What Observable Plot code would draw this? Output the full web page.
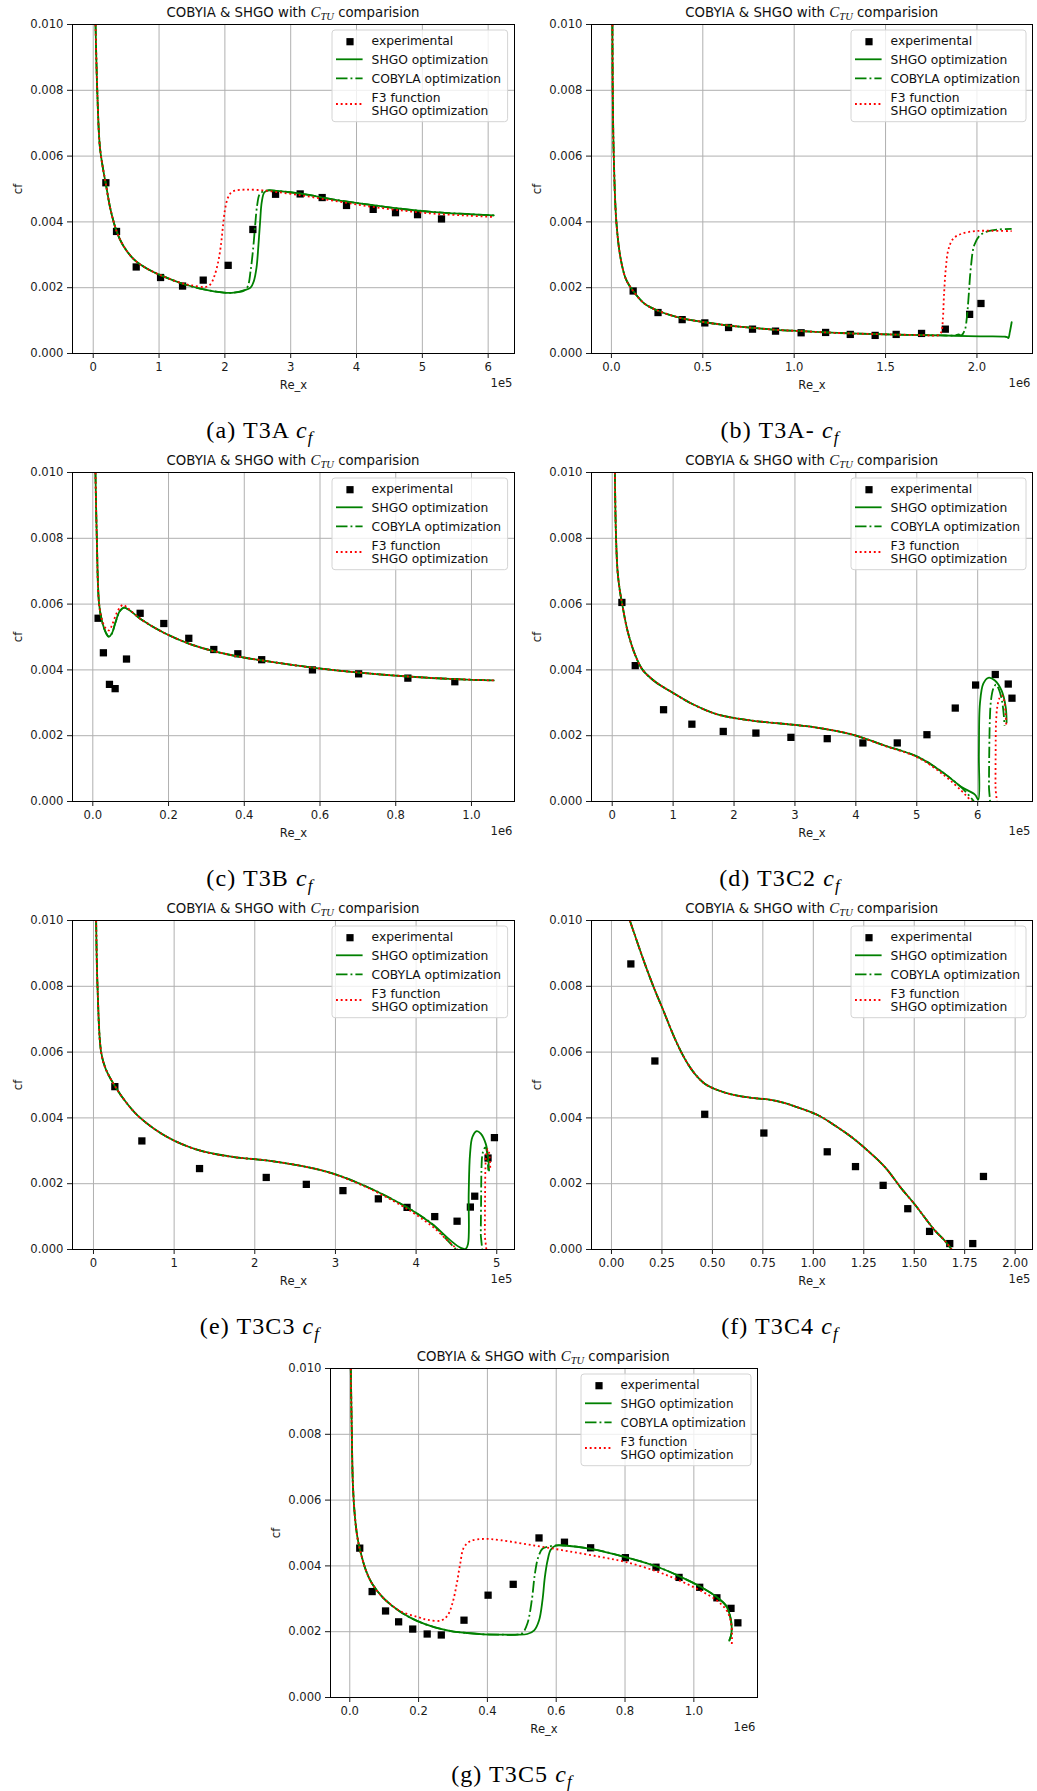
<!DOCTYPE html>
<html><head><meta charset="utf-8">
<script src="https://cdn.jsdelivr.net/npm/d3@7"></script>
<script src="https://cdn.jsdelivr.net/npm/@observablehq/plot@0.6"></script>
<style>
html,body{margin:0;padding:0;background:#fff;}
#root{position:relative;width:1037px;height:1791px;overflow:hidden;background:#fff;}
.abs{position:absolute;}
.title{font-family:"DejaVu Sans";font-size:13.3px;color:#111;text-align:center;white-space:nowrap;line-height:16px;height:16px;}
.math{font-family:"Liberation Serif";font-style:italic;font-size:15px;}
.math sub{font-size:10.5px;vertical-align:-3px;line-height:0;}
.cap{font-family:"Liberation Serif";font-size:24px;letter-spacing:1.1px;color:#000;text-align:center;white-space:nowrap;line-height:28px;height:28px;}
.cap sub{font-size:17px;vertical-align:-5px;line-height:0;}
</style></head><body><div id="root"></div>
<script>
// ---------- text ----------
const titlePre = "COBYIA & SHGO with ";
const titleMathMain = "C", titleMathSub = "TU";
const titlePost = " comparision";
const captions = ["(a) T3A", "(b) T3A-", "(c) T3B", "(d) T3C2", "(e) T3C3", "(f) T3C4", "(g) T3C5"];
const legendLabels = ["experimental", "SHGO optimization", "COBYLA optimization", "F3 function", "SHGO optimization"];
const xLabel = "Re_x", yLabel = "cf";
const offsets = ["1e5", "1e6", "1e6", "1e5", "1e5", "1e5", "1e6"];

// ---------- ticks ----------
const yTicks = [0, 0.002, 0.004, 0.006, 0.008, 0.010];
const ticksA = [0, 1, 2, 3, 4, 5, 6];
const ticksB = [0, 0.5, 1.0, 1.5, 2.0];
const ticksC = [0, 0.2, 0.4, 0.6, 0.8, 1.0];
const ticksD = [0, 1, 2, 3, 4, 5, 6];
const ticksE = [0, 1, 2, 3, 4, 5];
const ticksF = [0, 0.25, 0.5, 0.75, 1.0, 1.25, 1.5, 1.75, 2.0];
const ticksG = [0, 0.2, 0.4, 0.6, 0.8, 1.0];

// ---------- data: [Re_x (x offset unit), cf x1e3] ----------
// (a) T3A, x in 1e5
const expA = [[0.192,5.19],[0.354,3.71],[0.653,2.63],[1.023,2.31],[1.357,2.05],[1.671,2.23],[2.05,2.68],[2.425,3.77],[2.77,4.84],[3.144,4.85],[3.478,4.74],[3.848,4.50],[4.253,4.38],[4.592,4.28],[4.927,4.22],[5.291,4.09]];
const shgoA = [[0.035,10],[0.061,8.0],[0.1,6.3],[0.15,5.6],[0.192,5.15],[0.26,4.4],[0.354,3.72],[0.45,3.3],[0.618,2.86],[0.8,2.6],[1.023,2.38],[1.357,2.12],[1.681,1.95],[1.985,1.85],[2.137,1.85],[2.289,1.92],[2.39,2.0],[2.44,2.2],[2.48,2.6],[2.51,3.3],[2.535,4.0],[2.56,4.6],[2.6,4.9],[2.66,4.96],[2.795,4.94],[3.149,4.86],[3.656,4.68],[4.162,4.53],[4.668,4.40],[5.175,4.30],[5.681,4.24],[6.086,4.20]];
const cobylaA = [[0.035,10],[0.061,8.0],[0.1,6.3],[0.15,5.6],[0.192,5.15],[0.26,4.4],[0.354,3.72],[0.45,3.3],[0.618,2.86],[0.8,2.6],[1.023,2.38],[1.357,2.12],[1.681,1.95],[1.985,1.85],[2.137,1.85],[2.25,1.88],[2.30,1.92],[2.35,2.05],[2.39,2.5],[2.43,3.2],[2.46,3.9],[2.49,4.5],[2.53,4.85],[2.6,4.94],[2.66,4.96],[2.795,4.94],[3.149,4.86],[3.656,4.68],[4.162,4.53],[4.668,4.40],[5.175,4.30],[5.681,4.24],[6.086,4.20]];
const f3A = [[0.035,10],[0.061,8.0],[0.1,6.3],[0.15,5.6],[0.192,5.15],[0.26,4.4],[0.354,3.72],[0.45,3.3],[0.618,2.86],[0.8,2.6],[1.023,2.38],[1.357,2.13],[1.5,2.07],[1.70,2.02],[1.78,2.1],[1.84,2.35],[1.90,2.8],[1.94,3.3],[1.97,3.85],[2.0,4.35],[2.04,4.7],[2.09,4.88],[2.15,4.95],[2.3,4.98],[2.5,4.97],[2.7,4.93],[3.149,4.81],[3.656,4.64],[4.162,4.48],[4.668,4.35],[5.175,4.25],[5.681,4.19],[6.086,4.15]];

// (b) T3A-, x in 1e6
const expB = [[0.119,1.90],[0.255,1.245],[0.387,1.03],[0.511,0.93],[0.641,0.79],[0.772,0.74],[0.898,0.68],[1.038,0.63],[1.172,0.64],[1.307,0.58],[1.443,0.55],[1.558,0.58],[1.697,0.61],[1.827,0.74],[1.96,1.19],[2.022,1.52]];
const shgoB = [[0.0055,10],[0.0073,8],[0.0128,6],[0.027,4],[0.05,2.9],[0.08,2.25],[0.119,1.9],[0.18,1.52],[0.255,1.3],[0.387,1.07],[0.511,0.95],[0.641,0.85],[0.772,0.78],[0.9,0.72],[1.038,0.68],[1.172,0.64],[1.307,0.61],[1.443,0.59],[1.558,0.575],[1.697,0.56],[1.8,0.55],[1.95,0.53],[2.05,0.52],[2.15,0.51],[2.165,0.50],[2.172,0.47],[2.18,0.65],[2.19,0.95]];
const cobylaB = [[0.0055,10],[0.0073,8],[0.0128,6],[0.027,4],[0.05,2.9],[0.08,2.25],[0.119,1.9],[0.18,1.52],[0.255,1.3],[0.387,1.07],[0.511,0.95],[0.641,0.85],[0.772,0.78],[0.9,0.72],[1.038,0.68],[1.172,0.64],[1.307,0.61],[1.443,0.59],[1.558,0.575],[1.697,0.56],[1.8,0.55],[1.88,0.55],[1.9,0.58],[1.915,0.55],[1.934,0.72],[1.945,1.1],[1.953,1.62],[1.967,2.63],[1.985,3.29],[2.016,3.59],[2.062,3.72],[2.12,3.77],[2.19,3.79]];
const f3B = [[0.0055,10],[0.0073,8],[0.0128,6],[0.027,4],[0.05,2.9],[0.08,2.25],[0.119,1.9],[0.18,1.52],[0.255,1.3],[0.387,1.07],[0.511,0.95],[0.641,0.85],[0.772,0.78],[0.9,0.72],[1.038,0.68],[1.172,0.64],[1.307,0.61],[1.443,0.59],[1.558,0.575],[1.697,0.56],[1.79,0.56],[1.805,0.65],[1.813,1.0],[1.82,1.8],[1.83,2.6],[1.843,3.14],[1.87,3.49],[1.916,3.64],[1.99,3.72],[2.08,3.73],[2.19,3.72]];

// (c) T3B, x in 1e6
const expC = [[0.014,5.57],[0.028,4.52],[0.044,3.56],[0.059,3.43],[0.089,4.33],[0.125,5.72],[0.1875,5.41],[0.2535,4.96],[0.3195,4.62],[0.383,4.49],[0.446,4.31],[0.580,4.00],[0.702,3.88],[0.832,3.75],[0.956,3.64]];
const shgoC = [[0.007,10],[0.0106,8],[0.0167,6],[0.025,5.45],[0.035,5.12],[0.042,5.01],[0.05,5.1],[0.06,5.45],[0.071,5.78],[0.082,5.89],[0.095,5.83],[0.126,5.55],[0.1875,5.13],[0.2535,4.8],[0.3195,4.57],[0.383,4.41],[0.446,4.29],[0.580,4.07],[0.702,3.92],[0.832,3.8],[0.956,3.72],[1.059,3.68]];
const cobylaC = [[0.007,10],[0.0106,8],[0.0167,6],[0.025,5.45],[0.035,5.12],[0.042,5.01],[0.05,5.1],[0.06,5.45],[0.071,5.78],[0.082,5.89],[0.095,5.83],[0.126,5.55],[0.1875,5.13],[0.2535,4.8],[0.3195,4.57],[0.383,4.41],[0.446,4.29],[0.580,4.07],[0.702,3.92],[0.832,3.8],[0.956,3.72],[1.059,3.68]];
const f3C = [[0.007,10],[0.0106,8],[0.0167,6],[0.025,5.5],[0.035,5.25],[0.043,5.2],[0.052,5.4],[0.062,5.7],[0.072,5.9],[0.08,5.98],[0.09,5.9],[0.1,5.8],[0.126,5.55],[0.1875,5.13],[0.2535,4.8],[0.3195,4.57],[0.383,4.41],[0.446,4.29],[0.580,4.07],[0.702,3.92],[0.832,3.8],[0.956,3.72],[1.059,3.68]];

// (d) T3C2, x in 1e5
const expD = [[0.159,6.05],[0.378,4.13],[0.843,2.79],[1.308,2.35],[1.823,2.13],[2.359,2.08],[2.934,1.95],[3.53,1.91],[4.116,1.78],[4.68,1.78],[5.167,2.03],[5.632,2.84],[5.966,3.54],[6.289,3.86],[6.502,3.57],[6.563,3.14]];
const shgoD = [[0.044,10],[0.06,8.2],[0.088,7.0],[0.126,6.4],[0.159,6.05],[0.25,5.2],[0.378,4.45],[0.5,4.0],[0.7,3.65],[1.0,3.3],[1.308,2.97],[1.74,2.64],[2.288,2.46],[2.934,2.34],[3.38,2.24],[3.93,2.04],[4.477,1.70],[5.025,1.35],[5.46,0.84],[5.736,0.44],[5.955,0.21],[6.01,0.06],[6.02,1.45],[6.037,2.97],[6.092,3.58],[6.174,3.76],[6.283,3.68],[6.393,3.37],[6.46,2.87],[6.475,2.4]];
const cobylaD = [[0.044,10],[0.06,8.2],[0.088,7.0],[0.126,6.4],[0.159,6.05],[0.25,5.2],[0.378,4.45],[0.5,4.0],[0.7,3.65],[1.0,3.3],[1.308,2.97],[1.74,2.64],[2.288,2.46],[2.934,2.34],[3.38,2.24],[3.93,2.04],[4.477,1.70],[5.025,1.35],[5.46,0.84],[5.736,0.42],[5.85,0.2],[5.93,0.02],[6.0,-0.2],[6.18,-0.3],[6.185,0.5],[6.19,1.5],[6.2,2.5],[6.22,3.1],[6.26,3.45],[6.30,3.55],[6.35,3.4],[6.40,3.05],[6.43,2.6],[6.44,2.3]];
const f3D = [[0.044,10],[0.06,8.2],[0.088,7.0],[0.126,6.4],[0.159,6.05],[0.25,5.2],[0.378,4.45],[0.5,4.0],[0.7,3.65],[1.0,3.3],[1.308,2.97],[1.74,2.64],[2.288,2.46],[2.934,2.34],[3.38,2.24],[3.93,2.04],[4.477,1.69],[5.025,1.33],[5.46,0.78],[5.736,0.32],[5.85,0.1],[5.95,-0.1],[6.1,-0.3],[6.29,-0.3],[6.292,0.5],[6.295,1.5],[6.30,2.3],[6.32,2.85],[6.36,3.15],[6.40,3.22],[6.44,3.0],[6.46,2.6],[6.47,2.3]];

// (e) T3C3, x in 1e5
const expE = [[0.265,4.95],[0.60,3.30],[1.315,2.46],[2.142,2.19],[2.639,1.98],[3.093,1.79],[3.532,1.54],[3.888,1.28],[4.231,1.00],[4.508,0.86],[4.673,1.29],[4.727,1.62],[4.892,2.78],[4.971,3.40]];
const shgoE = [[0.033,10],[0.05,8],[0.095,6],[0.15,5.5],[0.265,4.97],[0.418,4.43],[0.58,4.0],[0.914,3.42],[1.315,3.01],[1.741,2.81],[2.142,2.71],[2.639,2.51],[2.982,2.30],[3.395,1.90],[3.809,1.39],[4.016,1.09],[4.222,0.73],[4.429,0.27],[4.553,0.05],[4.615,0.02],[4.644,0.17],[4.652,1.69],[4.669,2.91],[4.698,3.42],[4.752,3.60],[4.802,3.52],[4.864,3.21],[4.892,2.81],[4.905,2.40]];
const cobylaE = [[0.033,10],[0.05,8],[0.095,6],[0.15,5.5],[0.265,4.97],[0.418,4.43],[0.58,4.0],[0.914,3.42],[1.315,3.01],[1.741,2.81],[2.142,2.71],[2.639,2.51],[2.982,2.30],[3.395,1.90],[3.809,1.39],[4.016,1.09],[4.222,0.73],[4.35,0.38],[4.45,0.12],[4.55,-0.1],[4.80,-0.3],[4.802,0.5],[4.806,1.5],[4.81,2.4],[4.82,2.85],[4.84,3.05],[4.86,3.1],[4.88,2.95],[4.89,2.6],[4.895,2.4]];
const f3E = [[0.033,10],[0.05,8],[0.095,6],[0.15,5.5],[0.265,4.97],[0.418,4.43],[0.58,4.0],[0.914,3.42],[1.315,3.01],[1.741,2.81],[2.142,2.71],[2.639,2.51],[2.982,2.29],[3.395,1.88],[3.809,1.35],[4.016,1.03],[4.222,0.66],[4.4,0.25],[4.5,0.03],[4.6,-0.2],[4.85,-0.3],[4.852,0.5],[4.855,1.5],[4.86,2.5],[4.87,2.9],[4.89,3.05],[4.905,2.95],[4.915,2.7],[4.92,2.45]];

// (f) T3C4, x in 1e5
const expF = [[0.096,8.68],[0.215,5.73],[0.462,4.11],[0.755,3.54],[1.069,2.97],[1.209,2.52],[1.346,1.95],[1.468,1.24],[1.576,0.55],[1.676,0.18],[1.79,0.18],[1.843,2.22]];
const shgoF = [[0.091,10],[0.116,9.55],[0.165,8.69],[0.215,7.88],[0.25,7.37],[0.314,6.41],[0.363,5.80],[0.413,5.34],[0.462,5.04],[0.528,4.84],[0.611,4.69],[0.694,4.61],[0.776,4.56],[0.859,4.45],[0.941,4.28],[1.024,4.08],[1.107,3.77],[1.189,3.42],[1.25,3.11],[1.354,2.51],[1.437,1.85],[1.5,1.39],[1.602,0.58],[1.651,0.27],[1.685,0.0],[1.70,-0.15]];
const cobylaF = [[0.091,10],[0.116,9.55],[0.165,8.69],[0.215,7.88],[0.25,7.37],[0.314,6.41],[0.363,5.80],[0.413,5.34],[0.462,5.04],[0.528,4.84],[0.611,4.69],[0.694,4.61],[0.776,4.56],[0.859,4.45],[0.941,4.28],[1.024,4.08],[1.107,3.77],[1.189,3.42],[1.25,3.11],[1.354,2.51],[1.437,1.85],[1.5,1.39],[1.602,0.58],[1.651,0.27],[1.685,0.0],[1.70,-0.15]];
const f3F = [[0.091,10],[0.116,9.55],[0.165,8.69],[0.215,7.88],[0.25,7.37],[0.314,6.41],[0.363,5.80],[0.413,5.34],[0.462,5.04],[0.528,4.84],[0.611,4.69],[0.694,4.61],[0.776,4.56],[0.859,4.45],[0.941,4.28],[1.024,4.08],[1.107,3.77],[1.189,3.42],[1.25,3.11],[1.354,2.51],[1.437,1.85],[1.5,1.39],[1.602,0.58],[1.651,0.27],[1.685,0.0],[1.70,-0.15]];

// (g) T3C5, x in 1e6
const expG = [[0.029,4.54],[0.065,3.22],[0.104,2.63],[0.142,2.30],[0.183,2.08],[0.225,1.93],[0.266,1.90],[0.332,2.35],[0.402,3.11],[0.475,3.44],[0.550,4.85],[0.624,4.72],[0.700,4.55],[0.801,4.25],[0.890,3.96],[0.957,3.65],[1.017,3.35],[1.067,3.03],[1.108,2.71],[1.128,2.27]];
const shgoG = [[0.003,10],[0.006,8.02],[0.009,6.5],[0.015,5.49],[0.022,4.88],[0.029,4.52],[0.047,3.86],[0.065,3.46],[0.1,3.0],[0.148,2.60],[0.197,2.32],[0.245,2.14],[0.294,2.02],[0.342,1.96],[0.39,1.92],[0.439,1.91],[0.487,1.91],[0.516,1.93],[0.536,2.04],[0.55,2.34],[0.56,2.95],[0.567,3.66],[0.575,4.17],[0.584,4.49],[0.599,4.62],[0.623,4.62],[0.70,4.52],[0.801,4.27],[0.89,3.99],[0.957,3.69],[1.017,3.38],[1.067,3.05],[1.093,2.80],[1.105,2.49],[1.11,2.14],[1.108,1.89],[1.103,1.73]];
const cobylaG = [[0.003,10],[0.006,8.02],[0.009,6.5],[0.015,5.49],[0.022,4.88],[0.029,4.52],[0.047,3.86],[0.065,3.46],[0.1,3.0],[0.148,2.60],[0.197,2.32],[0.245,2.14],[0.294,2.02],[0.342,1.96],[0.39,1.92],[0.439,1.91],[0.487,1.91],[0.502,1.96],[0.516,2.24],[0.529,2.95],[0.538,3.76],[0.548,4.27],[0.56,4.52],[0.579,4.59],[0.599,4.62],[0.623,4.62],[0.70,4.52],[0.801,4.27],[0.89,3.99],[0.957,3.69],[1.017,3.38],[1.067,3.05],[1.093,2.80],[1.105,2.49],[1.11,2.14],[1.108,1.89],[1.103,1.73]];
const f3G = [[0.003,10],[0.006,8.02],[0.009,6.5],[0.015,5.49],[0.022,4.88],[0.029,4.52],[0.047,3.86],[0.065,3.46],[0.1,3.0],[0.148,2.62],[0.197,2.45],[0.226,2.36],[0.265,2.34],[0.284,2.49],[0.298,2.85],[0.311,3.46],[0.321,4.07],[0.332,4.57],[0.352,4.76],[0.39,4.82],[0.439,4.78],[0.536,4.62],[0.633,4.45],[0.73,4.27],[0.801,4.12],[0.89,3.84],[0.957,3.56],[1.017,3.26],[1.067,2.95],[1.098,2.60],[1.11,2.14],[1.111,1.84],[1.11,1.58]];

// ---------- layout ----------
const panels = [
  {L:72,    R:514,    T:24,   B:353,  xdom:[-0.315,6.40],   ticks:ticksA, fmt:"d",   exp:expA, shgo:shgoA, cob:cobylaA, f3:f3A, capX:260, legW:175.6},
  {L:591.3, R:1032.3, T:24,   B:353,  xdom:[-0.109,2.304],  ticks:ticksB, fmt:".1f", exp:expB, shgo:shgoB, cob:cobylaB, f3:f3B, capX:780, legW:175},
  {L:72,    R:514,    T:472,  B:801,  xdom:[-0.0536,1.1136],ticks:ticksC, fmt:".1f", exp:expC, shgo:shgoC, cob:cobylaC, f3:f3C, capX:260, legW:175.6},
  {L:591.3, R:1032.3, T:472,  B:801,  xdom:[-0.34,6.90],    ticks:ticksD, fmt:"d",   exp:expD, shgo:shgoD, cob:cobylaD, f3:f3D, capX:780, legW:175},
  {L:72,    R:514,    T:920,  B:1249, xdom:[-0.26,5.22],    ticks:ticksE, fmt:"d",   exp:expE, shgo:shgoE, cob:cobylaE, f3:f3E, capX:260, legW:175.6},
  {L:591.3, R:1032.3, T:920,  B:1249, xdom:[-0.099,2.086],  ticks:ticksF, fmt:".2f", exp:expF, shgo:shgoF, cob:cobylaF, f3:f3F, capX:780, legW:175},
  {L:329.7, R:756.7,  T:1368, B:1697, xdom:[-0.056,1.185],  ticks:ticksG, fmt:".1f", exp:expG, shgo:shgoG, cob:cobylaG, f3:f3G, capX:512, legW:170}
];

const root = document.getElementById("root");
const ml = 72, mr = 14, mt = 8, mb = 52;
const GREEN = "#008000", RED = "#ff0000";
const fx = d => d[0], fy = d => d[1] / 1000;

panels.forEach((p, i) => {
  const w = (p.R - p.L) + ml + mr, h = (p.B - p.T) + mt + mb;
  const svg = Plot.plot({
    width: w, height: h,
    marginLeft: ml, marginRight: mr, marginTop: mt, marginBottom: mb,
    style: {fontFamily: "DejaVu Sans", fontSize: "11.6px", color: "#1a1a1a", background: "transparent", overflow: "visible"},
    x: {domain: p.xdom},
    y: {domain: [0, 0.010]},
    marks: [
      Plot.gridX(p.ticks, {stroke: "#b0b0b0", strokeOpacity: 1, strokeWidth: 1}),
      Plot.gridY(yTicks, {stroke: "#b0b0b0", strokeOpacity: 1, strokeWidth: 1}),
      Plot.dot(p.exp, {x: fx, y: fy, symbol: "square", r: 4.1, fill: "#000", stroke: "none"}),
      Plot.line(p.shgo, {x: fx, y: fy, stroke: GREEN, strokeWidth: 1.8, curve: "catmull-rom", clip: true}),
      Plot.line(p.cob, {x: fx, y: fy, stroke: GREEN, strokeWidth: 1.8, curve: "catmull-rom", strokeDasharray: "11.5,3,1.9,3", strokeLinecap: "butt", clip: true}),
      Plot.line(p.f3, {x: fx, y: fy, stroke: RED, strokeWidth: 1.8, curve: "catmull-rom", strokeDasharray: "1.9,2.8", strokeLinecap: "butt", clip: true}),
      Plot.frame({stroke: "#000", strokeWidth: 1}),
      Plot.axisX({ticks: p.ticks, tickFormat: p.fmt, tickSize: 5, tickPadding: 4, label: null}),
      Plot.axisY({ticks: yTicks, tickFormat: ".3f", tickSize: 5, tickPadding: 4, label: null}),
      Plot.text([yLabel], {frameAnchor: "left", dx: -54, rotate: -90, textAnchor: "middle", lineAnchor: "middle", fontSize: 11.6}),
      Plot.text([xLabel], {frameAnchor: "bottom", dy: 32, textAnchor: "middle", lineAnchor: "middle", fontSize: 11.6}),
      Plot.text([offsets[i]], {frameAnchor: "bottom-right", dy: 30, dx: -2, textAnchor: "end", lineAnchor: "middle", fontSize: 11.6})
    ]
  });
  svg.style.position = "absolute";
  svg.style.left = (p.L - ml) + "px";
  svg.style.top = (p.T - mt) + "px";
  root.appendChild(svg);

  // title
  const t = document.createElement("div");
  t.className = "abs title";
  t.style.left = p.L + "px";
  t.style.width = (p.R - p.L) + "px";
  t.style.top = (p.T - 7 - 12.6) + "px";
  t.append(document.createTextNode(titlePre));
  const m = document.createElement("span"); m.className = "math";
  m.append(document.createTextNode(titleMathMain));
  const ms = document.createElement("sub"); ms.textContent = titleMathSub; m.append(ms);
  t.append(m);
  t.append(document.createTextNode(titlePost));
  root.appendChild(t);

  // legend
  const lw = p.legW, lh = 91.7;
  const lx = p.R - 6 - lw, ly = p.T + 6;
  const fs = i === 6 ? 11.9 : 12.3;
  const ls = d3.create("svg").attr("width", lw + 2).attr("height", lh + 2)
    .style("position", "absolute").style("left", (lx - 1) + "px").style("top", (ly - 1) + "px").style("overflow", "visible");
  const g = ls.append("g").attr("transform", "translate(1,1)");
  g.append("rect").attr("width", lw).attr("height", lh).attr("rx", 3).attr("ry", 3)
    .attr("fill", "#fff").attr("fill-opacity", 0.8).attr("stroke", "#d4d4d4").attr("stroke-width", 1);
  g.append("rect").attr("x", 18 - 3.6).attr("y", 11.7 - 3.6).attr("width", 7.2).attr("height", 7.2).attr("fill", "#000");
  g.append("line").attr("x1", 4).attr("x2", 30.6).attr("y1", 29.3).attr("y2", 29.3).attr("stroke", GREEN).attr("stroke-width", 1.8);
  g.append("line").attr("x1", 4).attr("x2", 30.6).attr("y1", 48.3).attr("y2", 48.3).attr("stroke", GREEN).attr("stroke-width", 1.8).attr("stroke-dasharray", "11.5,3,1.9,3");
  g.append("line").attr("x1", 4).attr("x2", 30.6).attr("y1", 74).attr("y2", 74).attr("stroke", RED).attr("stroke-width", 1.8).attr("stroke-dasharray", "1.9,2.8");
  const base = [15, 34.3, 53.3, 71.7, 85];
  legendLabels.forEach((lab, k) => {
    g.append("text").attr("x", 39.6).attr("y", base[k]).attr("font-family", "DejaVu Sans").attr("font-size", fs).attr("fill", "#111").text(lab);
  });
  root.appendChild(ls.node());

  // caption
  const c = document.createElement("div");
  c.className = "abs cap";
  c.style.left = (p.capX - 150) + "px";
  c.style.width = "300px";
  c.style.top = (p.B + 85 - 22.1) + "px";
  c.append(document.createTextNode(captions[i] + " "));
  const ci = document.createElement("i"); ci.textContent = "c"; c.append(ci);
  const cs = document.createElement("sub"); const csi = document.createElement("i"); csi.textContent = "f"; cs.append(csi); c.append(cs);
  root.appendChild(c);
});
</script></body></html>
